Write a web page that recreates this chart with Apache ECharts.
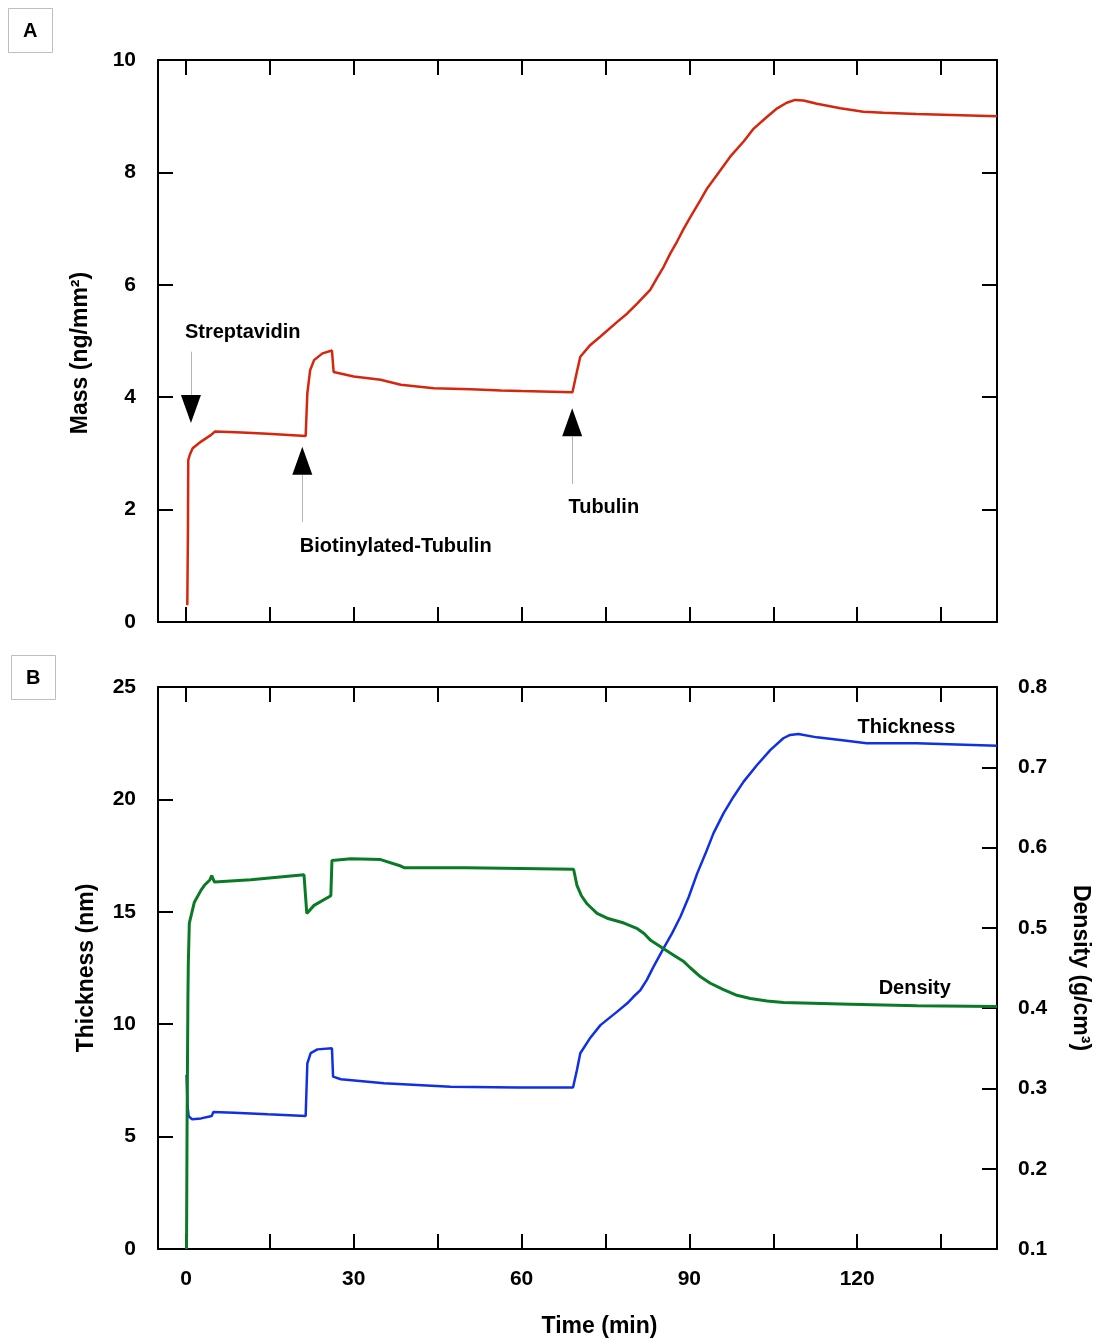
<!DOCTYPE html>
<html>
<head>
<meta charset="utf-8">
<script src="https://cdn.jsdelivr.net/npm/echarts@6/dist/echarts.min.js"></script>
<style>
html,body{margin:0;padding:0;background:#fff;}
#chart{width:1109px;height:1340px;}
</style>
</head>
<body>
<div id="chart"></div>
<script>
// ---- Data (time in min) ----
const massTime  = [0.24, 0.35, 0.41, 0.7, 1.2, 2.7, 4.5, 5.2, 10, 14.6, 21.4, 21.7, 22.2, 22.9, 24.4, 26.1, 26.4, 30, 34.8, 38.4, 44.3, 51, 56.3, 60, 69.1, 70.0, 70.5, 72.3, 74.1, 77.1, 78.9, 80.7, 83, 84.2, 85.4, 86.6, 87.8, 89, 90.2, 92, 93.2, 94.9, 97.3, 99.7, 101.5, 103.9, 105.7, 107.4, 108.9, 110.4, 112.8, 117, 121.1, 124.7, 130.6, 145];
const massValue = [0.30, 1.60, 2.88, 2.98, 3.09, 3.21, 3.33, 3.39, 3.37, 3.35, 3.31, 4.07, 4.48, 4.66, 4.78, 4.83, 4.45, 4.37, 4.31, 4.22, 4.16, 4.14, 4.12, 4.11, 4.09, 4.50, 4.72, 4.93, 5.08, 5.34, 5.49, 5.67, 5.91, 6.12, 6.32, 6.56, 6.77, 7.00, 7.21, 7.51, 7.72, 7.95, 8.28, 8.55, 8.78, 8.99, 9.14, 9.24, 9.29, 9.28, 9.22, 9.14, 9.08, 9.06, 9.04, 9.00];

const thickTime  = [0.1, 0.3, 0.5, 1.1, 2.7, 4.6, 4.9, 8.6, 14.6, 21.4, 21.7, 22.3, 23.5, 26.1, 26.3, 27.7, 35.4, 47.3, 59.2, 69.2, 69.9, 70.5, 72.3, 74.1, 75.6, 77.1, 78.9, 80, 81.25, 82.4, 83.6, 85.4, 86.9, 88.4, 89.9, 91.4, 92.9, 94.3, 96.1, 97.9, 99.7, 102.1, 104.5, 106.8, 108, 109.5, 112.8, 117, 121.7, 130.6, 145];
const thickValue = [7.74, 6.30, 5.90, 5.77, 5.81, 5.92, 6.09, 6.06, 5.99, 5.92, 8.26, 8.71, 8.88, 8.93, 7.67, 7.55, 7.37, 7.22, 7.18, 7.18, 7.96, 8.71, 9.40, 9.96, 10.26, 10.56, 10.93, 11.22, 11.52, 11.97, 12.56, 13.38, 14.04, 14.78, 15.67, 16.71, 17.60, 18.49, 19.38, 20.12, 20.79, 21.53, 22.20, 22.72, 22.87, 22.91, 22.76, 22.64, 22.50, 22.50, 22.39];

const densTime  = [0.1, 0.2, 0.35, 0.42, 0.6, 1.5, 2.7, 3.3, 4.3, 4.6, 5.1, 11.6, 21.1, 21.6, 22.9, 25.9, 26.1, 29.5, 34.8, 38.4, 39, 50, 60, 69.3, 69.9, 70.7, 71.7, 72.3, 73.5, 75.3, 78.3, 80.7, 81.9, 83, 85.4, 87.2, 89, 90.2, 92, 93.75, 96.1, 98.5, 100.9, 103.9, 106.8, 118.8, 130.7, 145];
const densValue = [0.10, 0.257, 0.414, 0.456, 0.506, 0.532, 0.547, 0.553, 0.560, 0.565, 0.557, 0.560, 0.566, 0.518, 0.528, 0.540, 0.584, 0.586, 0.585, 0.577, 0.575, 0.575, 0.574, 0.573, 0.553, 0.540, 0.530, 0.526, 0.518, 0.512, 0.506, 0.499, 0.493, 0.485, 0.474, 0.466, 0.458, 0.450, 0.439, 0.431, 0.423, 0.416, 0.412, 0.409, 0.407, 0.405, 0.403, 0.402];

// ticks / labels
const timeTicks  = [0, 15, 30, 45, 60, 75, 90, 105, 120, 135];
const timeLabels = [0, 30, 60, 90, 120];

// annotations (data units of panel A)
const arrowNames  = ['Streptavidin', 'Biotinylated-Tubulin', 'Tubulin'];
const arrowX      = [0.89, 20.8, 69.05];
const arrowCenter = [3.79, 2.868, 3.553];
const arrowDown   = [true, false, false];
const stemFrom    = [4.81, 2.616, 3.297];
const stemTo      = [4.04, 1.78, 2.456];
const textX       = [10.15, 37.5, 74.7];
const textY       = [5.16, 1.34, 2.03];

const FONT = '"Liberation Sans", Arial, Helvetica, sans-serif';
const pair = (xs, ys) => xs.map((x, i) => [x, ys[i]]);

const tickStyle = {show: true, inside: true, length: 15, lineStyle: {color: '#000', width: 2}};
const lineStyleAxis = {show: true, onZero: false, lineStyle: {color: '#000', width: 2}};
const lblStyle = {color: '#000', fontSize: 21, fontWeight: 'bold', fontFamily: FONT};
const nameStyle = {color: '#000', fontSize: 23, fontWeight: 'bold', fontFamily: FONT};

function xAx(grid, pos, labels) {
  return {
    type: 'value', gridIndex: grid, position: pos, min: -5, max: 145,
    axisLine: lineStyleAxis,
    axisTick: Object.assign({customValues: timeTicks}, tickStyle),
    axisLabel: labels ? Object.assign({show: true, customValues: timeLabels, margin: 20}, lblStyle) : {show: false},
    splitLine: {show: false}
  };
}

const markPointData = [];
const markLineData = [];
arrowNames.forEach((n, i) => {
  markPointData.push({
    coord: [arrowX[i], arrowCenter[i]], symbol: 'triangle', symbolSize: [20, 28],
    symbolRotate: arrowDown[i] ? 180 : 0, itemStyle: {color: '#000'}, label: {show: false}
  });
  markPointData.push({
    coord: [textX[i], textY[i]], symbol: 'circle', symbolSize: 0,
    label: {show: true, position: 'inside', formatter: n, fontSize: 20, color: '#000', fontWeight: 'bold', fontFamily: FONT}
  });
  markLineData.push([{coord: [arrowX[i], stemFrom[i]]}, {coord: [arrowX[i], stemTo[i]]}]);
});

const option = {
  animation: false,
  backgroundColor: '#fff',
  grid: [
    {left: 158, top: 60, width: 839, height: 562},
    {left: 158, top: 687, width: 839, height: 562}
  ],
  xAxis: [
    xAx(0, 'bottom', false),
    xAx(0, 'top', false),
    Object.assign(xAx(1, 'bottom', true), {name: 'Time (min)', nameLocation: 'middle', nameGap: 66,
      nameTextStyle: Object.assign({padding: [0, 0, 0, 44]}, nameStyle)}),
    xAx(1, 'top', false)
  ],
  yAxis: [
    {type: 'value', gridIndex: 0, position: 'left', min: 0, max: 10, interval: 2,
     axisLine: lineStyleAxis, axisTick: tickStyle,
     axisLabel: Object.assign({margin: 22}, lblStyle), splitLine: {show: false},
     name: 'Mass (ng/mm²)', nameLocation: 'middle', nameRotate: 90, nameGap: 66,
     nameTextStyle: Object.assign({padding: [0, 24, 0, 0]}, nameStyle)},
    {type: 'value', gridIndex: 0, position: 'right', min: 0, max: 10, interval: 2,
     axisLine: lineStyleAxis, axisTick: tickStyle, axisLabel: {show: false}, splitLine: {show: false}},
    {type: 'value', gridIndex: 1, position: 'left', min: 0, max: 25, interval: 5,
     axisLine: lineStyleAxis, axisTick: tickStyle,
     axisLabel: Object.assign({margin: 22}, lblStyle), splitLine: {show: false},
     name: 'Thickness (nm)', nameLocation: 'middle', nameRotate: 90, nameGap: 60, nameTextStyle: nameStyle},
    {type: 'value', gridIndex: 1, position: 'right', min: 0.1, max: 0.8, interval: 0.1,
     axisLine: lineStyleAxis, axisTick: tickStyle,
     axisLabel: Object.assign({margin: 21, formatter: v => v.toFixed(1)}, lblStyle), splitLine: {show: false},
     name: 'Density (g/cm³)', nameLocation: 'middle', nameRotate: -90, nameGap: 72, nameTextStyle: nameStyle}
  ],
  series: [
    {type: 'line', name: 'Mass', xAxisIndex: 0, yAxisIndex: 0, data: pair(massTime, massValue),
     showSymbol: false, lineStyle: {color: '#d7260e', width: 2.5}, itemStyle: {color: '#d7260e'},
     markPoint: {silent: true, data: markPointData},
     markLine: {silent: true, symbol: ['none', 'none'], label: {show: false},
                lineStyle: {color: '#b4b4b4', width: 1, type: 'solid'}, data: markLineData}},
    {type: 'line', name: 'Thickness', xAxisIndex: 2, yAxisIndex: 2, data: pair(thickTime, thickValue),
     showSymbol: false, lineStyle: {color: '#1030e6', width: 2.5}, itemStyle: {color: '#1030e6'},
     markPoint: {silent: true, data: [{coord: [128.8, 23.18], symbol: 'circle', symbolSize: 0,
        label: {show: true, position: 'inside', formatter: 'Thickness', color: '#000', fontSize: 20, fontWeight: 'bold', fontFamily: FONT}}]}},
    {type: 'line', name: 'Density', xAxisIndex: 2, yAxisIndex: 3, data: pair(densTime, densValue),
     showSymbol: false, lineStyle: {color: '#0b7a26', width: 3}, itemStyle: {color: '#0b7a26'},
     markPoint: {silent: true, data: [{coord: [130.3, 0.424], symbol: 'circle', symbolSize: 0,
        label: {show: true, position: 'inside', formatter: 'Density', color: '#000', fontSize: 20, fontWeight: 'bold', fontFamily: FONT}}]}}
  ],
  graphic: [
    {type: 'rect', left: 8, top: 8, shape: {width: 44, height: 44}, style: {fill: '#fff', stroke: '#bdbdbd', lineWidth: 1}},
    {type: 'text', left: 23, top: 21, style: {text: 'A', fill: '#000', font: 'bold 20px ' + FONT}},
    {type: 'rect', left: 11, top: 655, shape: {width: 44, height: 44}, style: {fill: '#fff', stroke: '#bdbdbd', lineWidth: 1}},
    {type: 'text', left: 26, top: 668, style: {text: 'B', fill: '#000', font: 'bold 20px ' + FONT}}
  ]
};

const chart = echarts.init(document.getElementById('chart'), null, {renderer: 'canvas'});
chart.setOption(option);
</script>
</body>
</html>
